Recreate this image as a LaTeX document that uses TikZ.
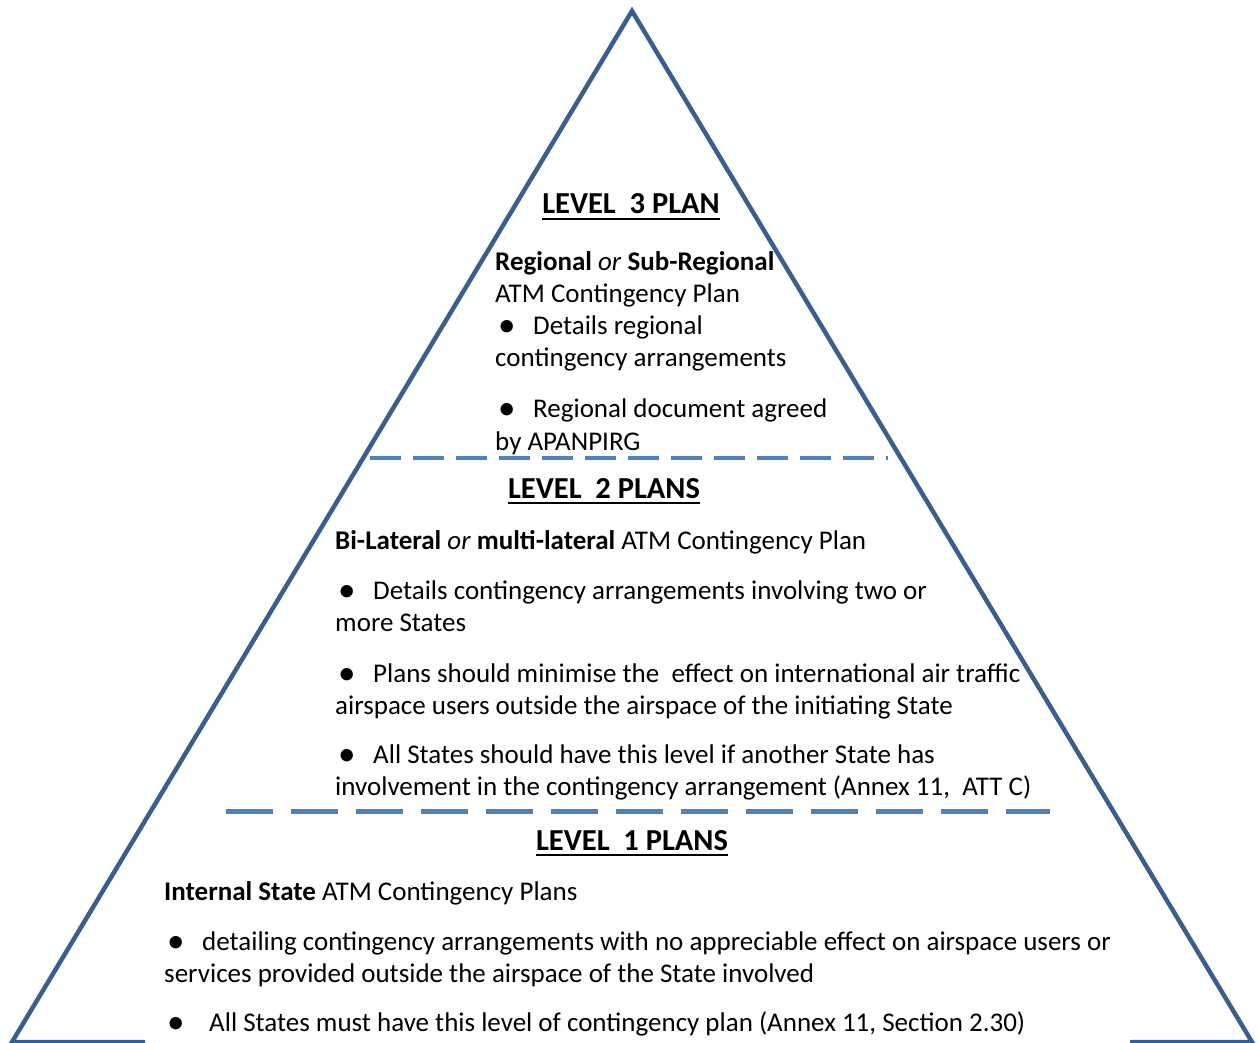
\documentclass[tikz,border=0pt]{standalone}
\usepackage{fontspec}
\setmainfont{Carlito}
\definecolor{triblue}{RGB}{58,95,140}
\definecolor{sepblue}{RGB}{79,129,189}
\newcommand\bdot{\raisebox{-2pt}{\fontsize{35}{35}\selectfont\textbullet}}
\newcommand\bpt{\makebox[38pt][l]{\hspace{3pt}\bdot}}
\begin{document}
\begin{tikzpicture}[x=1pt,y=-1pt,
  edge/.style={draw=triblue,line width=4.5pt,line join=miter},
  sepA/.style={draw=sepblue,line width=3.6pt,dash pattern=on 31pt off 12pt},
  sepB/.style={draw=sepblue,line width=5pt,dash pattern=on 47pt off 18pt},
  body/.style={anchor=base west,inner sep=0pt,font=\fontsize{27}{32}\selectfont},
  head/.style={anchor=base,inner sep=0pt,font=\fontsize{30.5}{36}\selectfont\bfseries},
  uline/.style={draw=black,line width=2.4pt},
]
\useasboundingbox (0,0) rectangle (1258,1043);

% pyramid outline (base interrupted by the text of the lowest level)
\coordinate (apex) at (632,11);
\coordinate (bl) at (12,1042);
\coordinate (br) at (1252,1042);
\coordinate (bl2) at (145,1042);
\coordinate (br2) at (1130,1042);
\draw[edge] (bl2) -- (bl) -- (apex) -- (br) -- (br2);

% level separators
\coordinate (s1a) at (370,458);
\coordinate (s1b) at (888,458);
\draw[sepA] (s1a) -- (s1b);
\coordinate (s2a) at (226,811);
\coordinate (s2b) at (1050,811);
\draw[sepB] (s2a) -- (s2b);

% level 3
\node[head] (h3) at (631,214) {LEVEL~~3 PLAN};
\draw[uline] ([yshift=-5pt]h3.base west) -- ([yshift=-5pt]h3.base east);
\node[body] (t3a) at (495,270) {\textbf{Regional} \textit{or} \textbf{Sub-Regional}};
\node[body] (t3b) at (495,302) {ATM Contingency Plan};
\node[body] (t3c) at (495,334) {\bpt Details regional};
\node[body] (t3d) at (495,366) {contingency arrangements};
\node[body] (t3e) at (495,417) {\bpt Regional document agreed};
\node[body] (t3f) at (495,450) {by APANPIRG};

% level 2
\node[head] (h2) at (604,498) {LEVEL~~2 PLANS};
\draw[uline] ([yshift=-5pt]h2.base west) -- ([yshift=-5pt]h2.base east);
\node[body] (t2a) at (335,549) {\textbf{Bi-Lateral} \textit{or} \textbf{multi-lateral} ATM Contingency Plan};
\node[body] (t2b) at (335,599) {\bpt Details contingency arrangements involving two or};
\node[body] (t2c) at (335,631) {more States};
\node[body] (t2d) at (335,682) {\bpt Plans should minimise the\ \ effect on international air traffic};
\node[body] (t2e) at (335,714) {airspace users outside the airspace of the initiating State};
\node[body] (t2f) at (335,763) {\bpt All States should have this level if another State has};
\node[body] (t2g) at (335,795) {involvement in the contingency arrangement (Annex 11,\ \ ATT C)};

% level 1
\node[head] (h1) at (632,850) {LEVEL~~1 PLANS};
\draw[uline] ([yshift=-5pt]h1.base west) -- ([yshift=-5pt]h1.base east);
\node[body] (t1a) at (164,900) {\textbf{Internal State} ATM Contingency Plans};
\node[body] (t1b) at (164,950) {\bpt detailing contingency arrangements with no appreciable effect on airspace users or};
\node[body] (t1c) at (164,982) {services provided outside the airspace of the State involved};
\node[body] (t1d) at (164,1031) {\makebox[45pt][l]{\hspace{3pt}\bdot}All States must have this level of contingency plan (Annex 11, Section 2.30)};
\end{tikzpicture}
\end{document}
